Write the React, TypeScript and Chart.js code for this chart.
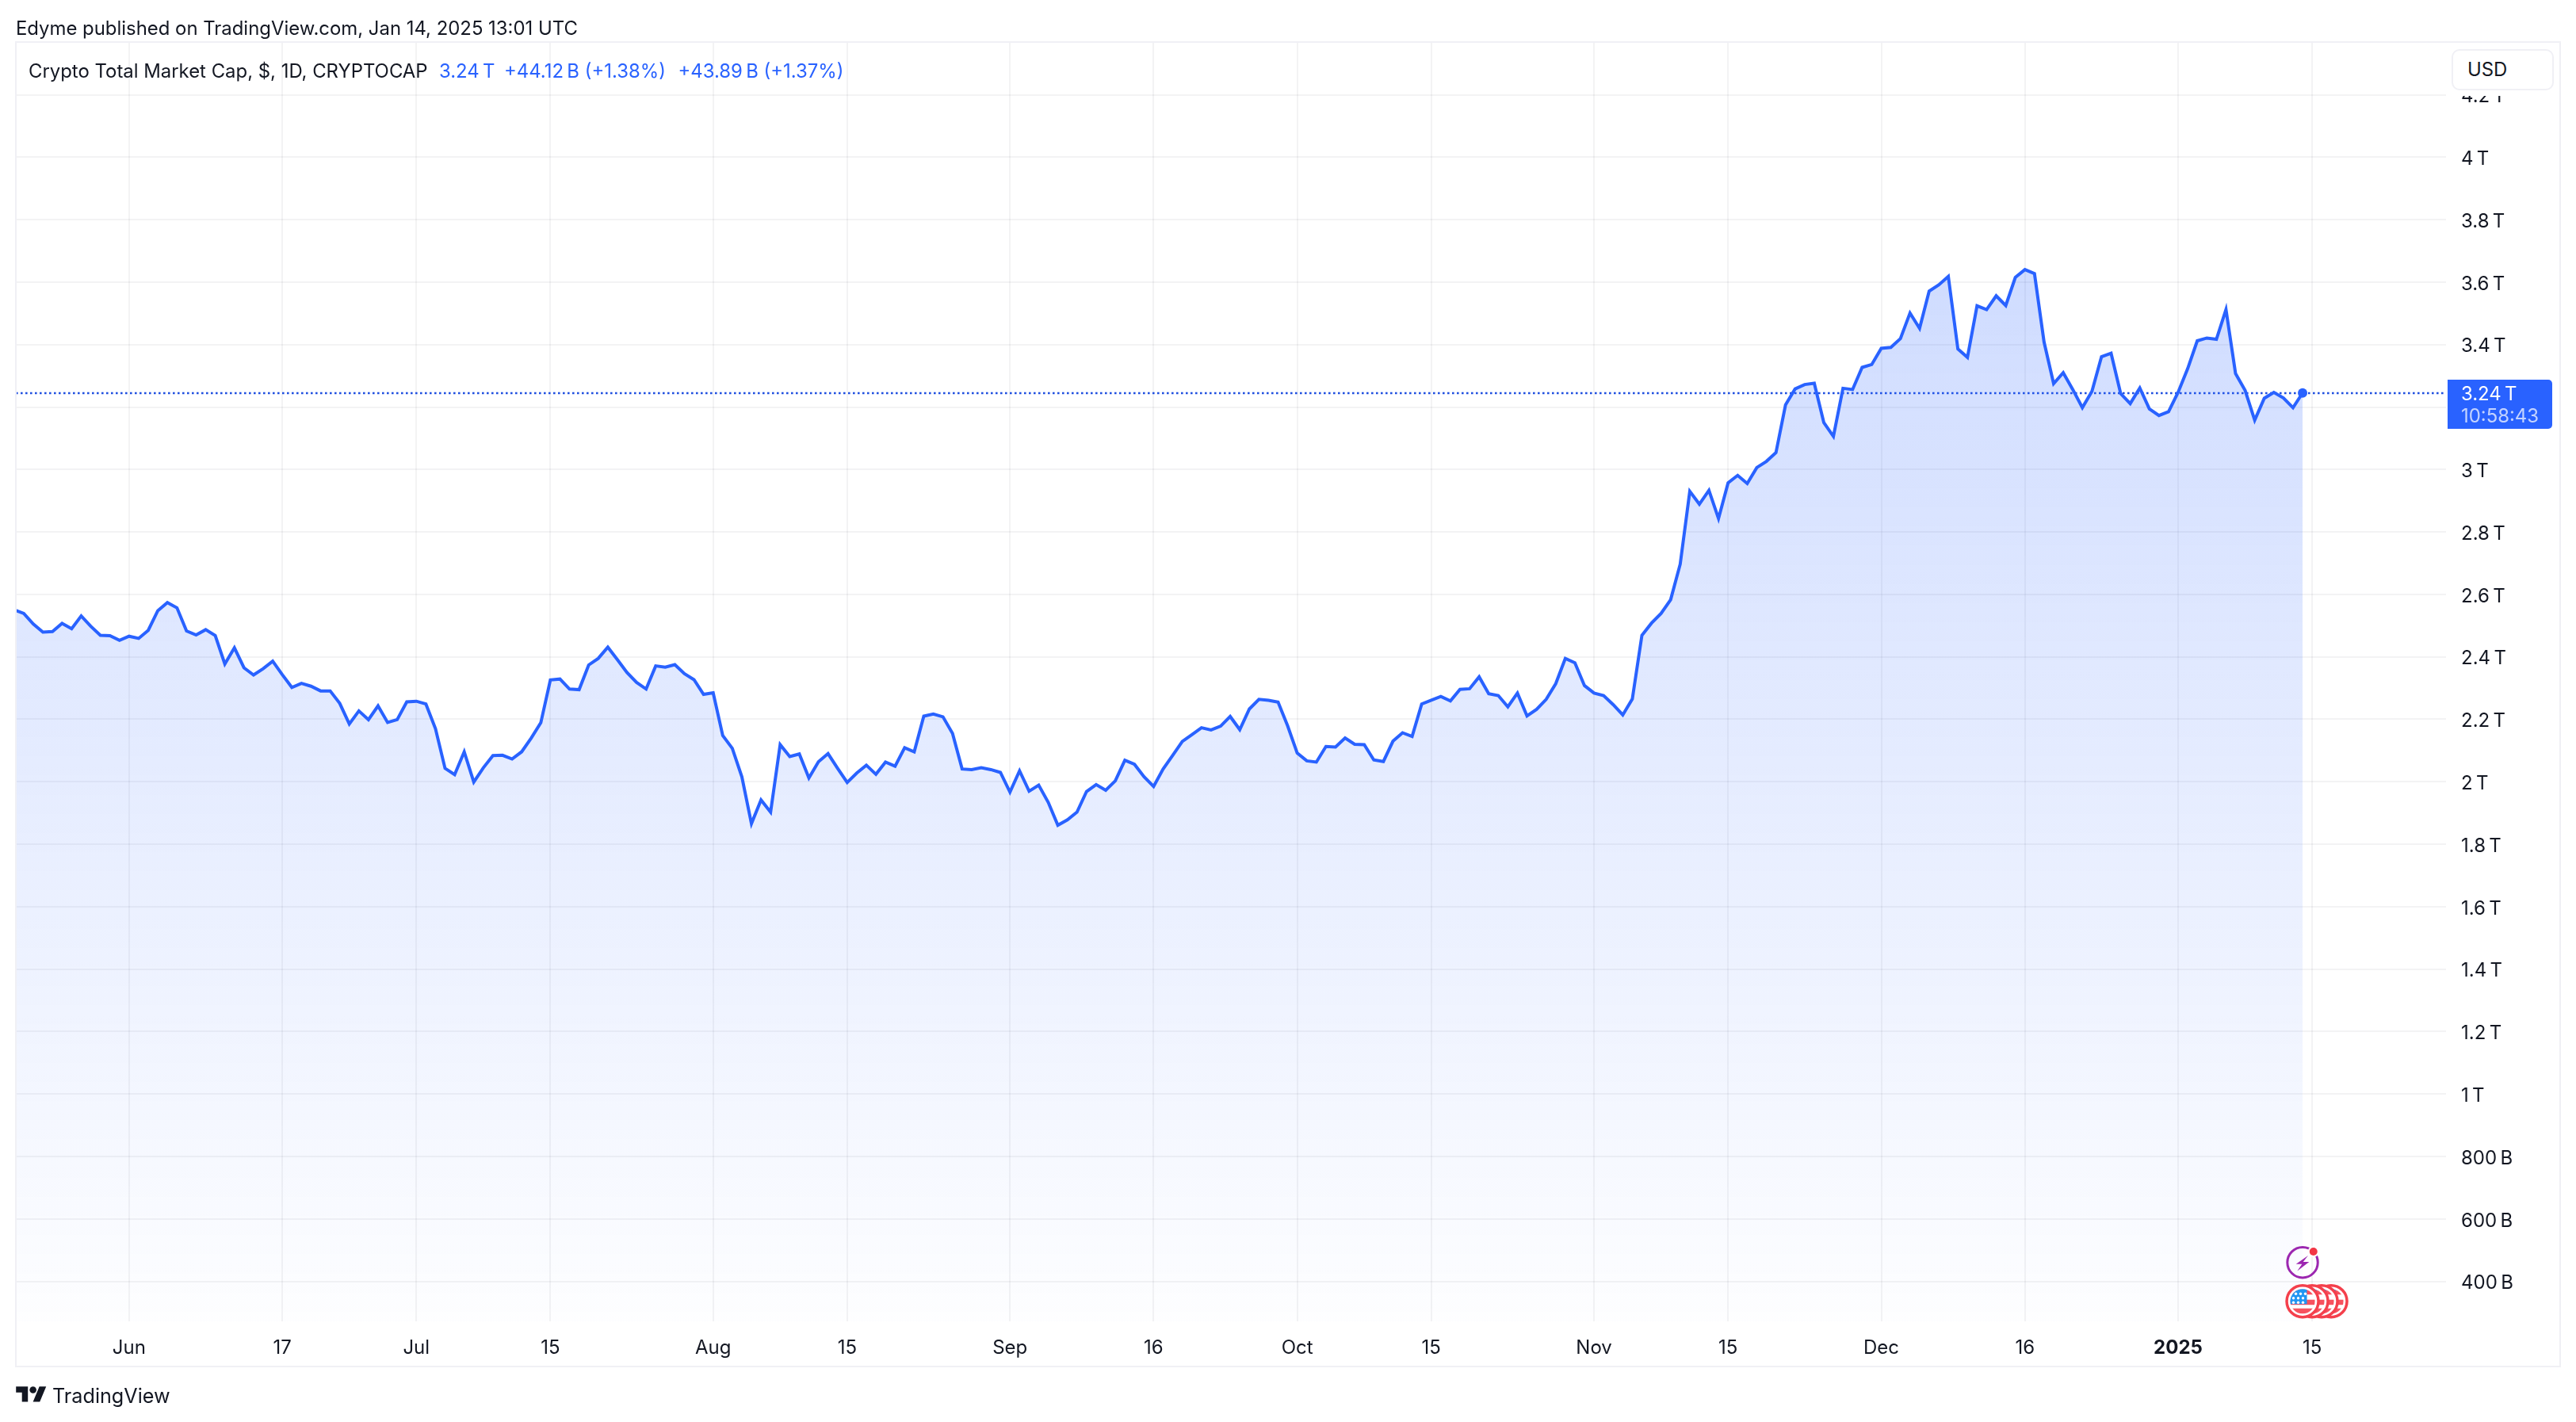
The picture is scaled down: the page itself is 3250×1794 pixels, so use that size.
import React, { useEffect, useRef } from "react";
import { Chart, registerables } from "chart.js";

Chart.register(...registerables);

// Daily close, in trillions of USD; first point is May 20 2024, last Jan 14 2025.
const marketCapT: number[] = [
  2.551, 2.539, 2.505, 2.479, 2.481, 2.507, 2.490, 2.531, 2.498, 2.469,
  2.468, 2.453, 2.466, 2.459, 2.485, 2.548, 2.574, 2.557, 2.483, 2.470,
  2.487, 2.468, 2.377, 2.429, 2.365, 2.342, 2.362, 2.386, 2.343, 2.302,
  2.315, 2.306, 2.291, 2.291, 2.251, 2.185, 2.227, 2.199, 2.243, 2.190,
  2.199, 2.256, 2.258, 2.249, 2.170, 2.043, 2.023, 2.096, 1.999, 2.045,
  2.084, 2.085, 2.073, 2.096, 2.140, 2.189, 2.326, 2.329, 2.297, 2.295,
  2.374, 2.395, 2.431, 2.391, 2.350, 2.318, 2.297, 2.371, 2.367, 2.375,
  2.346, 2.327, 2.280, 2.285, 2.148, 2.107, 2.016, 1.866, 1.942, 1.903,
  2.119, 2.081, 2.089, 2.012, 2.064, 2.090, 2.043, 1.998, 2.028, 2.053,
  2.024, 2.063, 2.050, 2.109, 2.096, 2.210, 2.217, 2.208, 2.155, 2.041,
  2.039, 2.045, 2.039, 2.030, 1.967, 2.035, 1.970, 1.989, 1.934, 1.861,
  1.878, 1.903, 1.969, 1.991, 1.973, 2.003, 2.069, 2.056, 2.016, 1.985,
  2.041, 2.085, 2.129, 2.151, 2.173, 2.166, 2.178, 2.209, 2.167, 2.233,
  2.264, 2.261, 2.255, 2.179, 2.092, 2.067, 2.063, 2.113, 2.111, 2.140,
  2.120, 2.119, 2.070, 2.065, 2.130, 2.157, 2.145, 2.249, 2.261, 2.273,
  2.259, 2.296, 2.298, 2.336, 2.282, 2.276, 2.240, 2.284, 2.211, 2.232,
  2.264, 2.314, 2.395, 2.381, 2.308, 2.284, 2.276, 2.247, 2.214, 2.265,
  2.469, 2.508, 2.539, 2.583, 2.697, 2.930, 2.889, 2.933, 2.843, 2.957,
  2.981, 2.955, 3.006, 3.026, 3.054, 3.207, 3.258, 3.272, 3.276, 3.150,
  3.106, 3.260, 3.256, 3.327, 3.336, 3.388, 3.391, 3.419, 3.501, 3.452,
  3.571, 3.591, 3.618, 3.386, 3.359, 3.524, 3.512, 3.556, 3.525, 3.615,
  3.640, 3.627, 3.408, 3.275, 3.310, 3.256, 3.198, 3.250, 3.361, 3.372,
  3.243, 3.211, 3.261, 3.194, 3.173, 3.185, 3.247, 3.323, 3.412, 3.421,
  3.417, 3.512, 3.307, 3.253, 3.158, 3.228, 3.247, 3.229, 3.198, 3.245,
];

const lastPriceLine = [3.2444];

const xTickDays: number[] = [12, 28, 42, 56, 73, 87, 104, 119, 134, 148, 165, 179, 195, 210, 226, 240];
const xTickLabels: string[] = ["Jun", "17", "Jul", "15", "Aug", "15", "Sep", "16", "Oct", "15", "Nov", "15", "Dec", "16", "2025", "15"];

const yTickValues: number[] = [0.4, 0.6, 0.8, 1, 1.2, 1.4, 1.6, 1.8, 2, 2.2, 2.4, 2.6, 2.8, 3, 3.2, 3.4, 3.6, 3.8, 4, 4.2];
const yTickLabels: string[] = ["400\u202fB", "600\u202fB", "800\u202fB", "1\u202fT", "1.2\u202fT", "1.4\u202fT", "1.6\u202fT", "1.8\u202fT", "2\u202fT", "2.2\u202fT", "2.4\u202fT", "2.6\u202fT", "2.8\u202fT", "3\u202fT", "3.2\u202fT", "3.4\u202fT", "3.6\u202fT", "3.8\u202fT", "4\u202fT", "4.2\u202fT"];

const xRange = { min: 0.174, max: 253.98 };
const yRange = { min: 0.2723, max: 4.3688 };

const BLUE = "#2962FF";
const INK = "#131722";
const FRAME = "#F0F0F5";
const FONT = "Inter, 'Noto Sans', sans-serif";

const drawIcons = {
  id: "eventIcons",
  afterDraw(chart: any) {
    const { ctx } = chart;
    const cx = chart.scales.x.getPixelForValue(marketCapT.length - 1);
    const bottom = chart.scales.y.bottom;
    const red = "#F23645";

    // lightning marker
    ctx.save();
    const by = bottom - 74.3;
    ctx.strokeStyle = "#9C27B0";
    ctx.lineWidth = 3;
    ctx.beginPath();
    ctx.arc(cx, by, 19.2, 0, Math.PI * 2);
    ctx.stroke();
    ctx.fillStyle = "#9C27B0";
    ctx.beginPath();
    const bolt = [[7, -8.7], [-8.3, 2], [-0.7, 2], [-6.7, 10.7], [8.3, -0.7], [0.7, -0.7]];
    bolt.forEach(([a, b], i) => (i ? ctx.lineTo(cx + a, by + b) : ctx.moveTo(cx + a, by + b)));
    ctx.closePath();
    ctx.fill();
    ctx.fillStyle = "#ffffff";
    ctx.beginPath();
    ctx.arc(cx + 13.7, by - 13.7, 7, 0, Math.PI * 2);
    ctx.fill();
    ctx.fillStyle = red;
    ctx.beginPath();
    ctx.arc(cx + 13.7, by - 13.7, 5, 0, Math.PI * 2);
    ctx.fill();

    // flag markers, back to front
    const fy = bottom - 25.3;
    for (let k = 3; k >= 0; k--) {
      const fx = cx + k * 12;
      ctx.fillStyle = "#ffffff";
      ctx.strokeStyle = "#F4404C";
      ctx.lineWidth = 3.5;
      ctx.beginPath();
      ctx.arc(fx, fy, 20, 0, Math.PI * 2);
      ctx.fill();
      ctx.stroke();
      ctx.save();
      ctx.beginPath();
      ctx.arc(fx, fy, 15.5, 0, Math.PI * 2);
      ctx.clip();
      ctx.fillStyle = "#F7525F";
      ctx.fillRect(fx - 16, fy - 15, 32, 6.5);
      ctx.fillRect(fx - 16, fy - 2, 32, 6.5);
      ctx.fillRect(fx - 16, fy + 9, 32, 7);
      ctx.fillStyle = "#2196F3";
      ctx.fillRect(fx - 16, fy - 16, 21.5, 19.5);
      ctx.fillStyle = "#ffffff";
      for (let r = 0; r < 3; r++) {
        for (let c = 0; c < 3; c++) {
          ctx.beginPath();
          ctx.arc(fx - 11.5 + c * 6 + (r === 0 ? 3 : 0), fy - 9.5 + r * 5.5, 1.7, 0, Math.PI * 2);
          ctx.fill();
        }
      }
      ctx.restore();
    }
    ctx.restore();
  },
};

const text = (s: React.CSSProperties): React.CSSProperties => ({
  position: "absolute",
  whiteSpace: "pre",
  fontFamily: FONT,
  fontSize: 23.9,
  lineHeight: "30px",
  color: INK,
  ...s,
});

export default function App() {
  const ref = useRef<HTMLCanvasElement>(null);

  useEffect(() => {
    const chart = new Chart(ref.current as HTMLCanvasElement, {
      type: "line",
      data: {
        datasets: [
          {
            label: "Crypto Total Market Cap",
            data: marketCapT.map((y, x) => ({ x, y })),
            borderColor: BLUE,
            borderWidth: 4,
            borderJoinStyle: "miter",
            tension: 0,
            clip: 0,
            fill: "start",
            backgroundColor: (c: any) => {
              const area = c.chart.chartArea;
              if (!area) return "rgba(41,98,255,0.15)";
              const g = c.chart.ctx.createLinearGradient(0, 338, 0, area.bottom);
              g.addColorStop(0, "rgba(41,98,255,0.225)");
              g.addColorStop(1, "rgba(41,98,255,0.008)");
              return g;
            },
            pointRadius: (c: any) => (c.dataIndex === marketCapT.length - 1 ? 6 : 0),
            pointBackgroundColor: BLUE,
            pointBorderWidth: 0,
          },
          {
            label: "Last price",
            data: [
              { x: xRange.min, y: lastPriceLine[0] },
              { x: xRange.max, y: lastPriceLine[0] },
            ],
            borderColor: "#1F4FE0",
            borderWidth: 2.5,
            borderDash: [2.6, 3.4],
            pointRadius: 0,
            fill: false,
          },
        ],
      } as any,
      options: {
        responsive: false,
        animation: false,
        devicePixelRatio: 1,
        layout: { padding: { top: 53, left: 20, right: 0, bottom: 0 } },
        plugins: { legend: { display: false }, tooltip: { enabled: false } },
        scales: {
          x: {
            type: "linear",
            min: xRange.min,
            max: xRange.max,
            afterBuildTicks: (s: any) => {
              s.ticks = xTickDays.map((value) => ({ value }));
            },
            afterFit: (s: any) => {
              s.height = 127;
            },
            grid: { color: "rgba(46,46,70,0.06)", lineWidth: 2, drawTicks: false },
            border: { display: false },
            ticks: {
              autoSkip: false,
              maxRotation: 0,
              padding: 19,
              color: INK,
              font: (c: any) => ({
                family: FONT,
                size: 24,
                weight: c.tick && xTickLabels[xTickDays.indexOf(c.tick.value)] === "2025" ? 700 : 400,
              }),
              callback: (v: any) => xTickLabels[xTickDays.indexOf(v)],
            },
          },
          y: {
            type: "linear",
            position: "right",
            min: yRange.min,
            max: yRange.max,
            afterBuildTicks: (s: any) => {
              s.ticks = yTickValues.map((value) => ({ value }));
            },
            afterFit: (s: any) => {
              s.width = 164;
            },
            grid: { color: "rgba(46,46,70,0.06)", lineWidth: 2, drawTicks: false },
            border: { display: false },
            ticks: {
              autoSkip: false,
              padding: 19,
              labelOffset: 2.5,
              color: INK,
              font: { family: FONT, size: 24 },
              callback: (v: any) => yTickLabels[yTickValues.indexOf(v)],
            },
          },
        },
      } as any,
      plugins: [drawIcons],
    });
    return () => chart.destroy();
  }, []);

  return (
    <div style={{ position: "absolute", left: 0, top: 0, width: 3250, height: 1794, background: "#fff", overflow: "hidden" }}>
      <canvas ref={ref} width={3250} height={1794} style={{ position: "absolute", left: 0, top: 0, width: 3250, height: 1794 }} />

      {/* frame */}
      <div style={{ position: "absolute", left: 19, top: 52, width: 3212, height: 1673, boxSizing: "border-box", border: `2px solid ${FRAME}` }} />

      <span style={text({ left: 20, top: 21 })}>Edyme published on TradingView.com, Jan 14, 2025 13:01 UTC</span>

      <span style={text({ left: 36, top: 75 })}>Crypto Total Market Cap, $, 1D, CRYPTOCAP</span>
      <span style={text({ left: 554, top: 75, color: BLUE })}>{"3.24\u202fT"}</span>
      <span style={text({ left: 636, top: 75, color: BLUE })}>{"+44.12\u202fB (+1.38%)"}</span>
      <span style={text({ left: 855.5, top: 75, color: BLUE })}>{"+43.89\u202fB (+1.37%)"}</span>

      {/* currency button */}
      <div style={{ position: "absolute", left: 3088, top: 55, width: 141, height: 66, background: "#fff" }} />
      <div style={{ position: "absolute", left: 3093, top: 62, width: 129, height: 52, boxSizing: "border-box", background: "#fff", border: `2px solid ${FRAME}`, borderRadius: 10 }} />
      <span style={text({ left: 3113, top: 73 })}>USD</span>

      {/* last price badge */}
      <div style={{ position: "absolute", left: 3088, top: 479, width: 132, height: 62, background: BLUE, borderRadius: "0 5px 5px 0" }} />
      <span style={text({ left: 3105, top: 482, color: "#fff" })}>{"3.24\u202fT"}</span>
      <span style={text({ left: 3105, top: 510, color: "rgba(255,255,255,0.72)" })}>10:58:43</span>

      {/* footer */}
      <svg style={{ position: "absolute", left: 20, top: 1745 }} width="39" height="30" viewBox="0 0 36 28">
        <path fill={INK} d="M14 22H7V11H0V4h14v18zM28 22h-8l7.5-18h8L28 22z" />
        <circle fill={INK} cx="20" cy="8" r="4" />
      </svg>
      <span style={text({ left: 66, top: 1746, fontSize: 25.2 })}>TradingView</span>
    </div>
  );
}
